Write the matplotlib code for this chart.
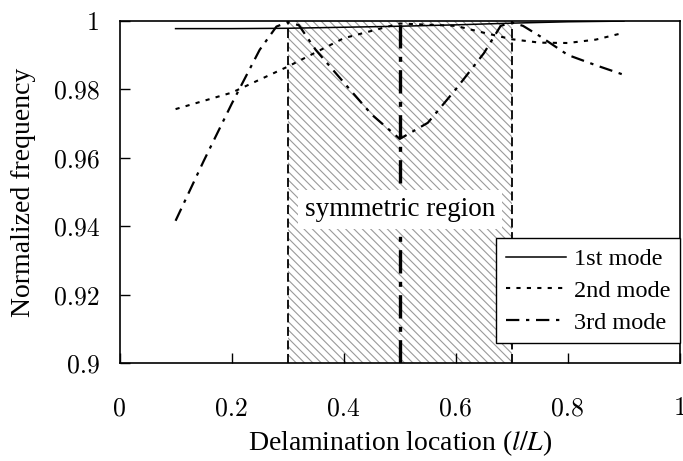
import numpy as np
import matplotlib
matplotlib.use("Agg")
import matplotlib.pyplot as plt

plt.rcParams['font.family'] = ['Liberation Serif', 'DejaVu Serif']
plt.rcParams['mathtext.fontset'] = 'stix'
plt.rcParams['hatch.linewidth'] = 0.8
plt.rcParams['hatch.color'] = '#9a9a9a'

# delamination location l/L
x1 = [0.1, 0.2, 0.3, 0.4, 0.5, 0.6, 0.7, 0.8, 0.9]
mode1 = [0.9977, 0.9977, 0.9978, 0.9981, 0.9984, 0.9988, 0.9993, 0.9997, 0.9999]

x2 = [0.1, 0.2, 0.3, 0.4, 0.5, 0.6, 0.65, 0.7, 0.75, 0.8, 0.85, 0.9]
mode2 = [0.9742, 0.9790, 0.9866, 0.9949, 0.9992, 0.9985, 0.9965, 0.9946, 0.9936, 0.9935, 0.9945, 0.9965]

x3 = [0.1, 0.15, 0.2, 0.25, 0.28, 0.3, 0.32, 0.35, 0.4, 0.45, 0.5,
      0.55, 0.6, 0.65, 0.68, 0.7, 0.72, 0.75, 0.8, 0.85, 0.9]
mode3 = [0.9416, 0.9590, 0.9757, 0.9915, 0.9983, 0.9996, 0.9987, 0.9915, 0.9820, 0.9726, 0.9655,
         0.9702, 0.9800, 0.9905, 0.9985, 0.9995, 0.9985, 0.9955, 0.9900, 0.9870, 0.9842]

region = (0.3, 0.7)
center = 0.5

fig = plt.figure(figsize=(6.83, 4.61), dpi=100)
ax = fig.add_axes([0.175, 0.212, 0.8206, 0.743])

ax.axvspan(region[0], region[1], facecolor='white', edgecolor='#9a9a9a',
           hatch='\\\\\\\\', linewidth=0, zorder=0)

ax.plot(x1, mode1, color='black', lw=1.1, label='1st mode', zorder=3)
ax.plot(x2, mode2, color='black', lw=1.5, linestyle=(0, (2, 3)), label='2nd mode', zorder=3)
ax.plot(x3, mode3, color='black', lw=1.6, linestyle=(0, (6, 3, 1.5, 3)), label='3rd mode', zorder=3)

for xv in region:
    ax.axvline(xv, color='black', lw=1.3, linestyle=(0, (5, 2.5)), zorder=2)
ax.axvline(center, color='black', lw=2.4, linestyle=(0, (7, 2.5, 1.5, 2.5)), zorder=2)

ax.text(center, 0.9448, 'symmetric region', ha='center', va='center', fontsize=19.5,
        bbox=dict(facecolor='white', edgecolor='none', pad=5), zorder=4)

ax.set_xlim(0, 1)
ax.set_ylim(0.9, 1.0)
ax.set_xticks([0, 0.2, 0.4, 0.6, 0.8, 1.0])
ax.set_xticklabels(['0', '0.2', '0.4', '0.6', '0.8', '1'])
ax.set_yticks([0.9, 0.92, 0.94, 0.96, 0.98, 1.0])
ax.set_yticklabels(['0.9', '0.92', '0.94', '0.96', '0.98', '1'])
ax.tick_params(axis='both', labelfontfamily='cmr10', labelsize=18.5)
ax.tick_params(axis='x', direction='in', length=7, width=1, pad=24)
ax.tick_params(axis='y', direction='in', length=7, width=1, pad=14)
for s in ax.spines.values():
    s.set_linewidth(1.2)

ax.set_xlabel(r'Delamination location ($l/L$)', fontsize=20, labelpad=6)
ax.set_ylabel('Normalized frequency', fontsize=20, labelpad=13)

leg = ax.legend(loc='lower right', bbox_to_anchor=(1.0, 0.058), borderaxespad=0,
                fontsize=17.5, handlelength=2.5, handletextpad=0.3, labelspacing=0.4,
                fancybox=False, framealpha=1, edgecolor='black', borderpad=0.4)
leg.get_frame().set_linewidth(1.0)
leg.set_zorder(5)

fig.savefig('out.png', dpi=100)
